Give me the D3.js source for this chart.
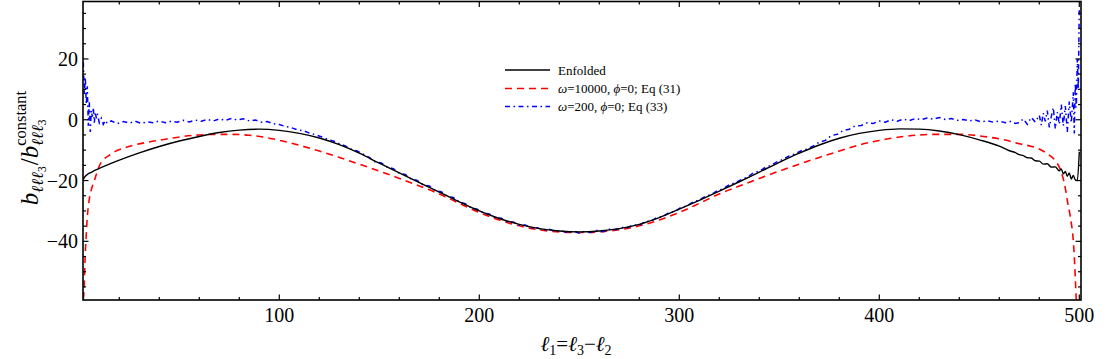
<!DOCTYPE html>
<html><head><meta charset="utf-8">
<script src="https://cdn.jsdelivr.net/npm/d3@7/dist/d3.min.js"></script>
<style>
body{margin:0;background:#fff}
svg{display:block}
text{font-family:"Liberation Serif","Times New Roman",serif;fill:#000}
</style>
</head><body>
<svg id="chart" width="1109" height="359"></svg>
<script>
// ---- data ----
const xMajorTicks = [100, 200, 300, 400, 500];
const yMajorTicks = [-40, -20, 0, 20];
const seriesNames = ["Enfolded", "ω=10000, ϕ=0; Eq (31)", "ω=200, ϕ=0; Eq (33)"];

const enfoldedL = [2,3,4,6,8,10,15,20,30,40,50,60,70,80,90,100,110,120,130,140,150,160,170,180,190,200,210,220,230,240,250,260,270,280,290,300,310,320,330,340,350,360,370,380,390,400,410,420,430,440,450,460,465,468,470,472,474,476,478,480,482,484,486,488,490,491,492,493,494,495,496,497,498,499,500];
const enfoldedV = [-19.6,-18.6,-18.0,-17.3,-16.6,-16.0,-14.6,-13.3,-10.9,-8.8,-7.0,-5.5,-4.2,-3.4,-3.1,-3.5,-4.5,-6.0,-8.2,-11.0,-14.3,-17.5,-20.7,-23.8,-27.0,-30.0,-32.5,-34.4,-35.8,-36.6,-36.9,-36.6,-35.8,-34.4,-32.2,-29.4,-26.5,-23.5,-20.4,-17.2,-14.0,-11.0,-8.3,-6.1,-4.5,-3.5,-3.0,-3.1,-3.7,-4.9,-6.6,-8.7,-10.2,-10.8,-11.5,-11.8,-12.5,-12.6,-13.5,-13.6,-14.6,-14.5,-15.6,-15.5,-16.8,-16.2,-17.8,-17.0,-18.6,-17.5,-19.5,-18.3,-19.8,-20.0,-10.5];

const eq31L = [2,2.3,3,3.5,4,4.8,6,7.3,8.5,10,12,15,18,22,27,35,45,52,60,68,75,85,92,101,110,120,130,140,150,160,170,180,190,200,210,220,230,240,250,260,270,280,290,300,310,320,330,340,350,360,370,380,390,400,410,420,430,440,450,460,465,470,475,480,484,488,490,492,493,494,495,496,496.7,497.5,498,498.5];
const eq31V = [-59,-57,-44,-37.5,-32,-27,-23,-20.5,-18,-15.2,-13.2,-11.7,-10.4,-9.4,-8.4,-7.3,-6.2,-5.5,-5.0,-4.8,-4.8,-5.1,-5.7,-6.9,-8.4,-10.3,-12.4,-14.6,-16.9,-19.3,-21.8,-24.4,-27.5,-30.5,-33.0,-34.9,-36.2,-36.9,-37.1,-36.9,-36.2,-34.9,-33.0,-30.5,-27.5,-24.4,-21.8,-19.3,-16.9,-14.6,-12.4,-10.3,-8.3,-6.8,-5.7,-5.0,-4.8,-4.8,-5.3,-6.3,-7.0,-7.9,-8.6,-9.6,-11.2,-13.5,-15.6,-19.5,-22.5,-26.5,-30,-34,-37.5,-45,-52,-60];

const eq33L = [2,2.5,3,3.5,4,4.5,5,5.5,6,6.5,7,7.5,8,8.5,9,10,11,12,13,14,16,19,22,25,28,31,34,37,40,43,46,49,52,55,58,61,64,67,70,73,76,79,82,85,88,91,94,97,100,103,106,109,112,115,118,121,124,127,130,133,136,139,142,145,148,151,154,157,160,163,166,169,172,175,178,181,184,187,190,193,196,199,202,205,208,211,214,217,220,223,226,229,232,235,238,241,244,247,250,253,256,259,262,265,268,271,274,277,280,283,286,289,292,295,298,301,304,307,310,313,316,319,322,325,328,331,334,337,340,343,346,349,352,355,358,361,364,367,370,373,376,379,382,385,388,391,394,397,400,403,406,409,412,415,418,421,424,427,430,433,436,439,442,445,448,451,454,457,460,463,466,468,470,472,474,476,478,480,481,482,483,484,485,486,487,488,489,490,491,492,493,494,495,496,497,497.5,498,498.5,499,499.5,500];
const eq33V = [19,8,14,5,11,-2,6,-4,3,1,4,-1,2.5,0.5,2,-1,0.5,-1.5,-0.2,-1.2,-0.4,-1.3,-0.6,-1.1,-0.5,-1.2,-0.7,-1.0,-0.4,-1.0,-0.5,-0.8,-0.2,-0.7,-0.1,-0.5,0.1,-0.4,0.3,-0.2,0.4,-0.1,0.3,-0.4,-0.1,-0.8,-0.6,-1.3,-1.6,-2.2,-2.6,-3.3,-3.6,-4.4,-4.9,-5.6,-6.4,-7.0,-7.9,-8.6,-9.7,-10.3,-11.3,-12.4,-13.9,-14.2,-15.6,-16.1,-17.6,-18.0,-19.5,-20.0,-21.5,-21.8,-23.3,-23.7,-25.2,-25.6,-27.1,-27.6,-29.0,-29.4,-30.7,-31.0,-32.3,-32.4,-33.6,-33.6,-34.7,-34.6,-35.6,-35.5,-36.3,-36.0,-36.8,-36.5,-37.2,-36.6,-37.3,-36.7,-37.1,-36.4,-36.8,-36.0,-36.2,-35.4,-35.5,-34.6,-34.7,-33.5,-33.3,-32.1,-31.8,-30.5,-30.1,-28.8,-28.3,-27.0,-26.4,-25.2,-24.6,-23.3,-22.7,-21.4,-20.7,-19.7,-18.9,-17.5,-16.9,-15.7,-14.9,-13.8,-13.0,-11.9,-11.2,-10.2,-9.6,-8.6,-7.4,-6.8,-5.2,-4.8,-3.5,-3.1,-2.0,-1.9,-1.0,-1.2,-0.4,-0.8,0.0,-0.5,0.2,-0.3,0.4,0.0,0.6,0.2,0.7,0.1,0.4,-0.2,0.1,-0.4,-0.1,-0.7,-0.3,-0.8,-0.4,-1.0,-0.5,-1.2,-1.0,0.3,-1.5,0.8,-0.8,1.5,-1.8,2.2,-0.5,3.0,-2.5,1.0,4.0,-3.0,2.5,-1.5,5.0,-2.0,4.5,-4.0,6.0,-1.0,9.0,-4.5,12,4,20,10,37];

// ---- layout ----
const svg = d3.select("#chart");
const L = 83, R = 1081, T = 1.5, B = 300;
const x = d3.scaleLinear().domain([1.85, 500.85]).range([L, R]);
const y = d3.scaleLinear().domain([-59.3, 38.9]).range([B, T]);

svg.append("defs").append("clipPath").attr("id","clip")
  .append("rect").attr("x",L).attr("y",T).attr("width",R-L).attr("height",B-T);

function series(ls, vs){ return ls.map((l,i)=>[l, vs[i]]); }
const line = d3.line().x(d=>x(d[0])).y(d=>y(d[1]));
const smooth = d3.line().x(d=>x(d[0])).y(d=>y(d[1])).curve(d3.curveMonotoneX);

const g = svg.append("g").attr("clip-path","url(#clip)");
g.append("path").datum(series(eq31L, eq31V)).attr("d", smooth)
  .attr("fill","none").attr("stroke","#ff0000").attr("stroke-width",1.6).attr("stroke-dasharray","7,5");
g.append("path").datum(series(eq33L, eq33V)).attr("d", line)
  .attr("fill","none").attr("stroke","#0000ff").attr("stroke-width",1.5).attr("stroke-dasharray","5,3.5,1.5,3.5");
g.append("path").datum(series(enfoldedL, enfoldedV)).attr("d", smooth)
  .attr("fill","none").attr("stroke","#000").attr("stroke-width",1.4);

// ---- frame & ticks ----
const xMinor = d3.range(20, 501, 20).filter(v=>!xMajorTicks.includes(v));
const yMinor = d3.range(-55, 39, 5).filter(v=>!yMajorTicks.includes(v));
const axG = svg.append("g").attr("stroke","#000").attr("stroke-width",1.2);
function tick(x1,y1,x2,y2){ axG.append("line").attr("x1",x1).attr("y1",y1).attr("x2",x2).attr("y2",y2); }
xMajorTicks.forEach(v=>{ tick(x(v),B,x(v),B-5.5); tick(x(v),T,x(v),T+5.5); });
xMinor.forEach(v=>{ tick(x(v),B,x(v),B-3); tick(x(v),T,x(v),T+3); });
yMajorTicks.forEach(v=>{ tick(L,y(v),L+5.5,y(v)); tick(R,y(v),R-5.5,y(v)); });
yMinor.forEach(v=>{ tick(L,y(v),L+3,y(v)); tick(R,y(v),R-3,y(v)); });
svg.append("rect").attr("x",L).attr("y",T).attr("width",R-L).attr("height",B-T)
  .attr("fill","none").attr("stroke","#000").attr("stroke-width",1.6);

// tick labels
svg.append("g").selectAll("text").data(xMajorTicks).join("text")
  .attr("x",d=>x(d)).attr("y",322).attr("text-anchor","middle").attr("font-size",20)
  .text(d=>d);
svg.append("g").selectAll("text").data(yMajorTicks).join("text")
  .attr("x",78).attr("y",d=>y(d)+7).attr("text-anchor","end").attr("font-size",20)
  .text(d=>d<0? "\u2212"+Math.abs(d) : d);

// x axis label
const xl = svg.append("text").attr("x",576).attr("y",351).attr("text-anchor","middle").attr("font-size",21);
xl.append("tspan").attr("font-style","italic").text("ℓ");
xl.append("tspan").attr("font-size",14).attr("dy",4).text("1");
xl.append("tspan").attr("dy",-4).text("=");
xl.append("tspan").attr("font-style","italic").text("ℓ");
xl.append("tspan").attr("font-size",14).attr("dy",4).text("3");
xl.append("tspan").attr("dy",-4).text("\u2212");
xl.append("tspan").attr("font-style","italic").text("ℓ");
xl.append("tspan").attr("font-size",14).attr("dy",4).text("2");

// y axis label (stacked sub/superscript), built in a rotated group
const yg = svg.append("g").attr("transform","translate(38,148) rotate(-90)");
let cx = 0;
function piece(txt, size, dy, italic){
  return yg.append("text").attr("x",cx).attr("y",dy).attr("font-size",size)
    .attr("font-style", italic? "italic":"normal").text(txt);
}
function adv(t){ cx += t.node().getComputedTextLength(); }
adv(piece("b",25,0,true));
adv(piece("ℓℓℓ",16.5,5,true));
adv(piece("3",11.5,8,false));
cx += 1;
adv(piece("/",25,0,false));
adv(piece("b",25,0,true));
const supStart = cx;
adv(piece("ℓℓℓ",16.5,5,true));
adv(piece("3",11.5,8,false));
const subEnd = cx;
cx = supStart;
adv(piece("constant",16.5,-12,false));
const total = Math.max(cx, subEnd);
yg.selectAll("text").attr("x", function(){ return +d3.select(this).attr("x") - total/2; });

// legend
const legY = [70, 88.5, 106.5];
const legStyles = [
  {c:"#000", d:null, w:1.4},
  {c:"#ff0000", d:"7,5", w:1.6},
  {c:"#0000ff", d:"5,3.5,1.5,3.5", w:1.5}
];
const lg = svg.append("g");
seriesNames.forEach((n,i)=>{
  lg.append("line").attr("x1",505).attr("x2",550).attr("y1",legY[i]).attr("y2",legY[i])
    .attr("stroke",legStyles[i].c).attr("stroke-width",legStyles[i].w)
    .attr("stroke-dasharray",legStyles[i].d);
});
lg.append("text").attr("x",558).attr("y",legY[0]+4.5).attr("font-size",13).text(seriesNames[0]);
function legText(yy, w, eq){
  const t = lg.append("text").attr("x",558).attr("y",yy+4.5).attr("font-size",13);
  t.append("tspan").attr("font-style","italic").text("ω");
  t.append("tspan").text("="+w+", ");
  t.append("tspan").attr("font-style","italic").text("ϕ");
  t.append("tspan").text("=0; Eq ("+eq+")");
}
legText(legY[1], "10000", "31");
legText(legY[2], "200", "33");
</script>
</body></html>
